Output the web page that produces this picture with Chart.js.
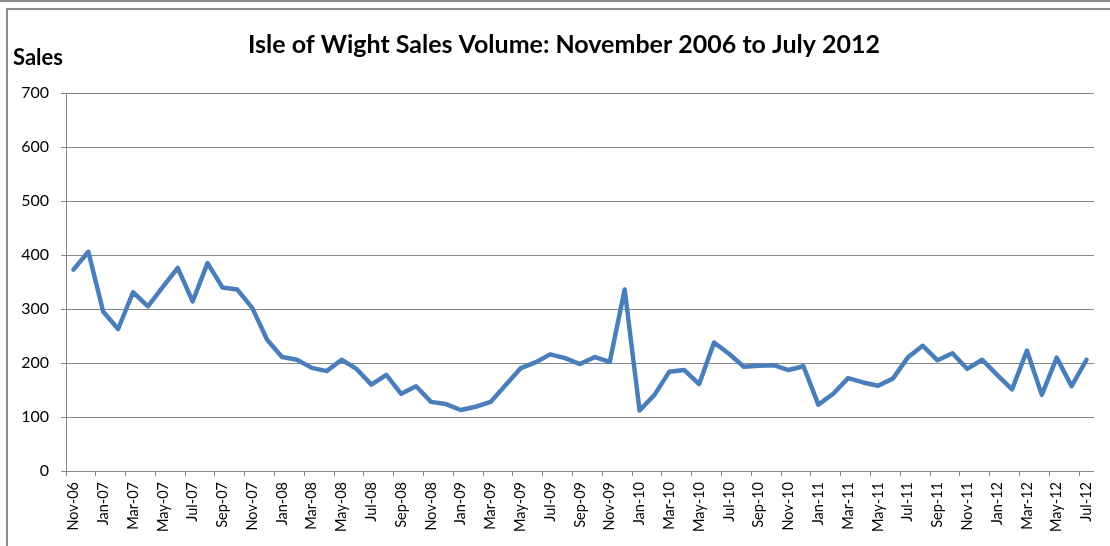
<!DOCTYPE html>
<html>
<head>
<meta charset="utf-8">
<script src="https://cdn.jsdelivr.net/npm/chart.js@4"></script>
<style>
  html, body { margin: 0; padding: 0; background: #fff; overflow: hidden; }
  #wrap { position: relative; width: 1110px; height: 546px; }
  /* Rahmen wie im Tabellen-Export */
  #topline { position: absolute; left: 0; top: 0; width: 1110px; height: 2px; background: #8c8c8c; }
  #frame { position: absolute; left: 6px; top: 8px; width: 1120px; height: 560px; border: 2px solid #8c8c8c; box-sizing: border-box; }
  #chart { position: absolute; left: 0; top: 0; }
</style>
</head>
<body>
<div id="wrap">
  <div id="topline"></div>
  <div id="frame"></div>
  <canvas id="chart" width="1110" height="546"></canvas>
</div>
<script>
// Monate Nov-06 bis Jul-12
const months = [
  'Nov-06', 'Dec-06',
  'Jan-07', 'Feb-07', 'Mar-07', 'Apr-07', 'May-07', 'Jun-07', 'Jul-07', 'Aug-07', 'Sep-07', 'Oct-07', 'Nov-07', 'Dec-07',
  'Jan-08', 'Feb-08', 'Mar-08', 'Apr-08', 'May-08', 'Jun-08', 'Jul-08', 'Aug-08', 'Sep-08', 'Oct-08', 'Nov-08', 'Dec-08',
  'Jan-09', 'Feb-09', 'Mar-09', 'Apr-09', 'May-09', 'Jun-09', 'Jul-09', 'Aug-09', 'Sep-09', 'Oct-09', 'Nov-09', 'Dec-09',
  'Jan-10', 'Feb-10', 'Mar-10', 'Apr-10', 'May-10', 'Jun-10', 'Jul-10', 'Aug-10', 'Sep-10', 'Oct-10', 'Nov-10', 'Dec-10',
  'Jan-11', 'Feb-11', 'Mar-11', 'Apr-11', 'May-11', 'Jun-11', 'Jul-11', 'Aug-11', 'Sep-11', 'Oct-11', 'Nov-11', 'Dec-11',
  'Jan-12', 'Feb-12', 'Mar-12', 'Apr-12', 'May-12', 'Jun-12', 'Jul-12'
];

// Verkaufszahlen
const sales = [
  373, 406,
  295, 263, 331, 305, 341, 376, 314, 385, 340, 336, 302, 243,
  211, 206, 191, 185, 206, 189, 160, 178, 143, 157, 128, 124,
  113, 119, 128, 159, 190, 201, 216, 209, 198, 211, 202, 336,
  112, 141, 184, 187, 161, 238, 217, 193, 195, 196, 187, 194,
  123, 143, 172, 164, 158, 171, 210, 232, 205, 218, 189, 206,
  178, 151, 223, 141, 210, 157, 206
];

const yTicks = [0, 100, 200, 300, 400, 500, 600, 700];

const chartTitle = 'Isle of Wight Sales Volume: November 2006 to July 2012';
const fontFamily = "Lato, 'Open Sans', sans-serif";
const axisGrey = '#868686';
const lineBlue = '#4a7ebb';

// Titel und "Sales" werden selbst gesetzt, damit die Lage wie im Original stimmt
const headerText = {
  id: 'headerText',
  afterDraw(chart) {
    const { ctx, chartArea } = chart;
    ctx.save();
    ctx.fillStyle = '#000';
    ctx.textBaseline = 'middle';

    ctx.font = 'bold 25px ' + fontFamily;
    ctx.textAlign = 'center';
    ctx.fillText(chartTitle, (chartArea.left + chartArea.right) / 2 - 16, chartArea.top - 48);

    ctx.font = 'bold 22px ' + fontFamily;
    ctx.textAlign = 'left';
    ctx.fillText('Sales', chartArea.left - 53, chartArea.top - 35);
    ctx.restore();
  }
};

new Chart(document.getElementById('chart'), {
  type: 'line',
  data: {
    labels: months,
    datasets: [{
      data: sales,
      borderColor: lineBlue,
      borderWidth: 4.5,
      borderJoinStyle: 'round',
      borderCapStyle: 'round',
      pointRadius: 0,
      tension: 0,
      fill: false
    }]
  },
  options: {
    responsive: false,
    animation: false,
    layout: { padding: { left: 8, right: 12, top: 93, bottom: 0 } },
    plugins: {
      legend: { display: false },
      tooltip: { enabled: false },
      title: { display: false }
    },
    scales: {
      x: {
        offset: true,
        border: { display: true, color: axisGrey, width: 1 },
        grid: {
          offset: true,
          drawOnChartArea: false,
          drawTicks: true,
          tickLength: 5,
          color: c => (c.index % 2 === 0 ? axisGrey : 'rgba(0,0,0,0)')
        },
        ticks: {
          autoSkip: false,
          maxRotation: 90,
          minRotation: 90,
          padding: 6,
          color: '#000',
          font: { family: fontFamily, size: 14.5 },
          callback: (v, i) => (i % 2 === 0 ? months[i] : '')
        },
        afterFit: s => { s.height = 75; }
      },
      y: {
        min: 0,
        max: 700,
        border: { display: true, color: axisGrey, width: 1 },
        grid: { color: axisGrey, lineWidth: 1, tickLength: 5 },
        afterBuildTicks: s => { s.ticks = yTicks.map(v => ({ value: v })); },
        ticks: {
          padding: 12,
          color: '#000',
          font: { family: fontFamily, size: 16 }
        },
        afterFit: s => { s.width = 58; }
      }
    }
  },
  plugins: [headerText]
});
</script>
</body>
</html>
